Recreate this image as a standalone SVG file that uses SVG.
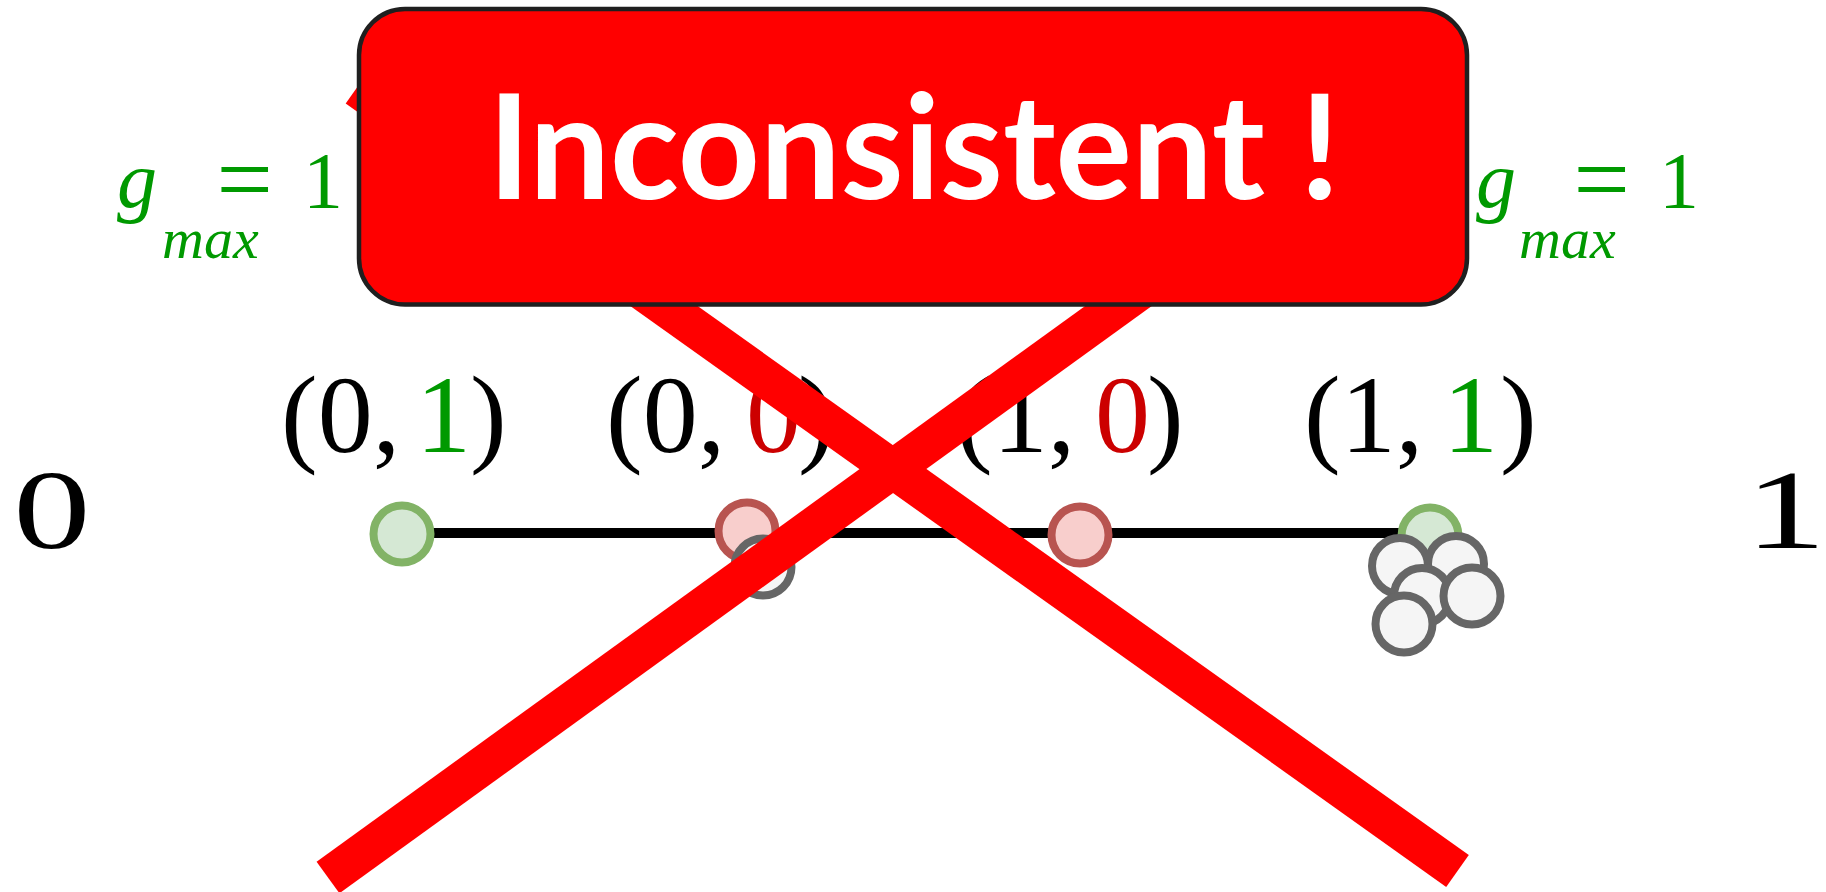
<svg xmlns="http://www.w3.org/2000/svg" width="1826" height="892" viewBox="0 0 1826 892">
<style>
.math{font-family:"Liberation Serif","Times New Roman",serif;}
.tuple{font-size:110px;fill:#000;}
.big{font-size:112px;fill:#000;}
.gm{fill:#009900;}
.it{font-style:italic;}
.grn{fill:#009900;}
.red{fill:#CC0000;}
.dot{stroke-width:8;}
.dg{fill:#d5e8d4;stroke:#82b366;}
.dr{fill:#f8cecc;stroke:#b85450;}
.dx{fill:#f5f5f5;stroke:#666666;}
.cross{stroke:#FF0000;stroke-width:39;fill:none;stroke-linecap:butt;}
.box{fill:#FF0000;stroke:#1f1f1f;stroke-width:4.5;}
.btxt{font-family:Lato,"Open Sans",sans-serif;font-weight:bold;font-size:146px;fill:#FFFFFF;}
</style>
<rect width="1826" height="892" fill="#FFFFFF"/>
<g id="connectors">
<line x1="402" y1="533" x2="1430" y2="533" stroke="#000" stroke-width="10"/>
</g>
<g id="node-01"><circle class="dot dg" cx="402" cy="534" r="28.5"/></g>
<g id="node-00"><circle class="dot dr" cx="747" cy="531" r="28.5"/></g>
<g id="node-00-extra"><circle class="dot dx" cx="763" cy="567" r="28.5"/></g>
<g id="node-10"><circle class="dot dr" cx="1080" cy="535" r="28.5"/></g>
<g id="node-11"><circle class="dot dg" cx="1430" cy="536" r="28.5"/></g>
<g id="cluster">
<circle class="dot dx" cx="1400" cy="566" r="28"/>
<circle class="dot dx" cx="1456" cy="564" r="28"/>
<circle class="dot dx" cx="1422" cy="596" r="28"/>
<circle class="dot dx" cx="1472" cy="596" r="28.5"/>
<circle class="dot dx" cx="1404" cy="624" r="28.5"/>
</g>
<g id="label-01" class="math tuple">
<text x="281" y="452">(0,</text>
<text class="grn" x="416" y="452">1</text>
<text x="470" y="452">)</text>
</g>
<g id="label-00" class="math tuple">
<text x="606" y="452">(0,</text>
<text class="red" x="746" y="452">0</text>
<text x="798" y="452">)</text>
</g>
<g id="label-10" class="math tuple">
<text x="956" y="452">(1,</text>
<text class="red" x="1095" y="452">0</text>
<text x="1147" y="452">)</text>
</g>
<g id="label-11" class="math tuple">
<text x="1304" y="452">(1,</text>
<text class="grn" x="1443" y="452">1</text>
<text x="1500" y="452">)</text>
</g>
<g id="axis-0"><text class="math big" transform="translate(13.3,548) scale(1.38,1)" x="0" y="0">0</text></g>
<g id="axis-1"><text class="math big" transform="translate(1745,548) scale(1.45,1)" x="0" y="0">1</text></g>
<g id="gmax-left" class="math gm">
<text class="it" x="117" y="207" font-size="80">g</text>
<text class="it" x="162" y="258" font-size="58">max</text>
<text x="216.5" y="213" font-size="100">=</text>
<text x="303" y="208" font-size="80">1</text>
</g>
<g id="gmax-right" class="math gm">
<text class="it" x="1476" y="207" font-size="80">g</text>
<text class="it" x="1519" y="258" font-size="58">max</text>
<text x="1573.5" y="213" font-size="100">=</text>
<text x="1659" y="208" font-size="80">1</text>
</g>
<g id="cross">
<line class="cross" x1="357" y1="87.5" x2="1457.5" y2="871"/>
<line class="cross" x1="328" y1="877.5" x2="1420" y2="88"/>
</g>
<g id="banner">
<rect class="box" x="359" y="9" width="1108" height="295.5" rx="46" ry="46"/>
<text class="btxt" x="488" y="199" textLength="852" lengthAdjust="spacingAndGlyphs">Inconsistent !</text>
</g>
</svg>
